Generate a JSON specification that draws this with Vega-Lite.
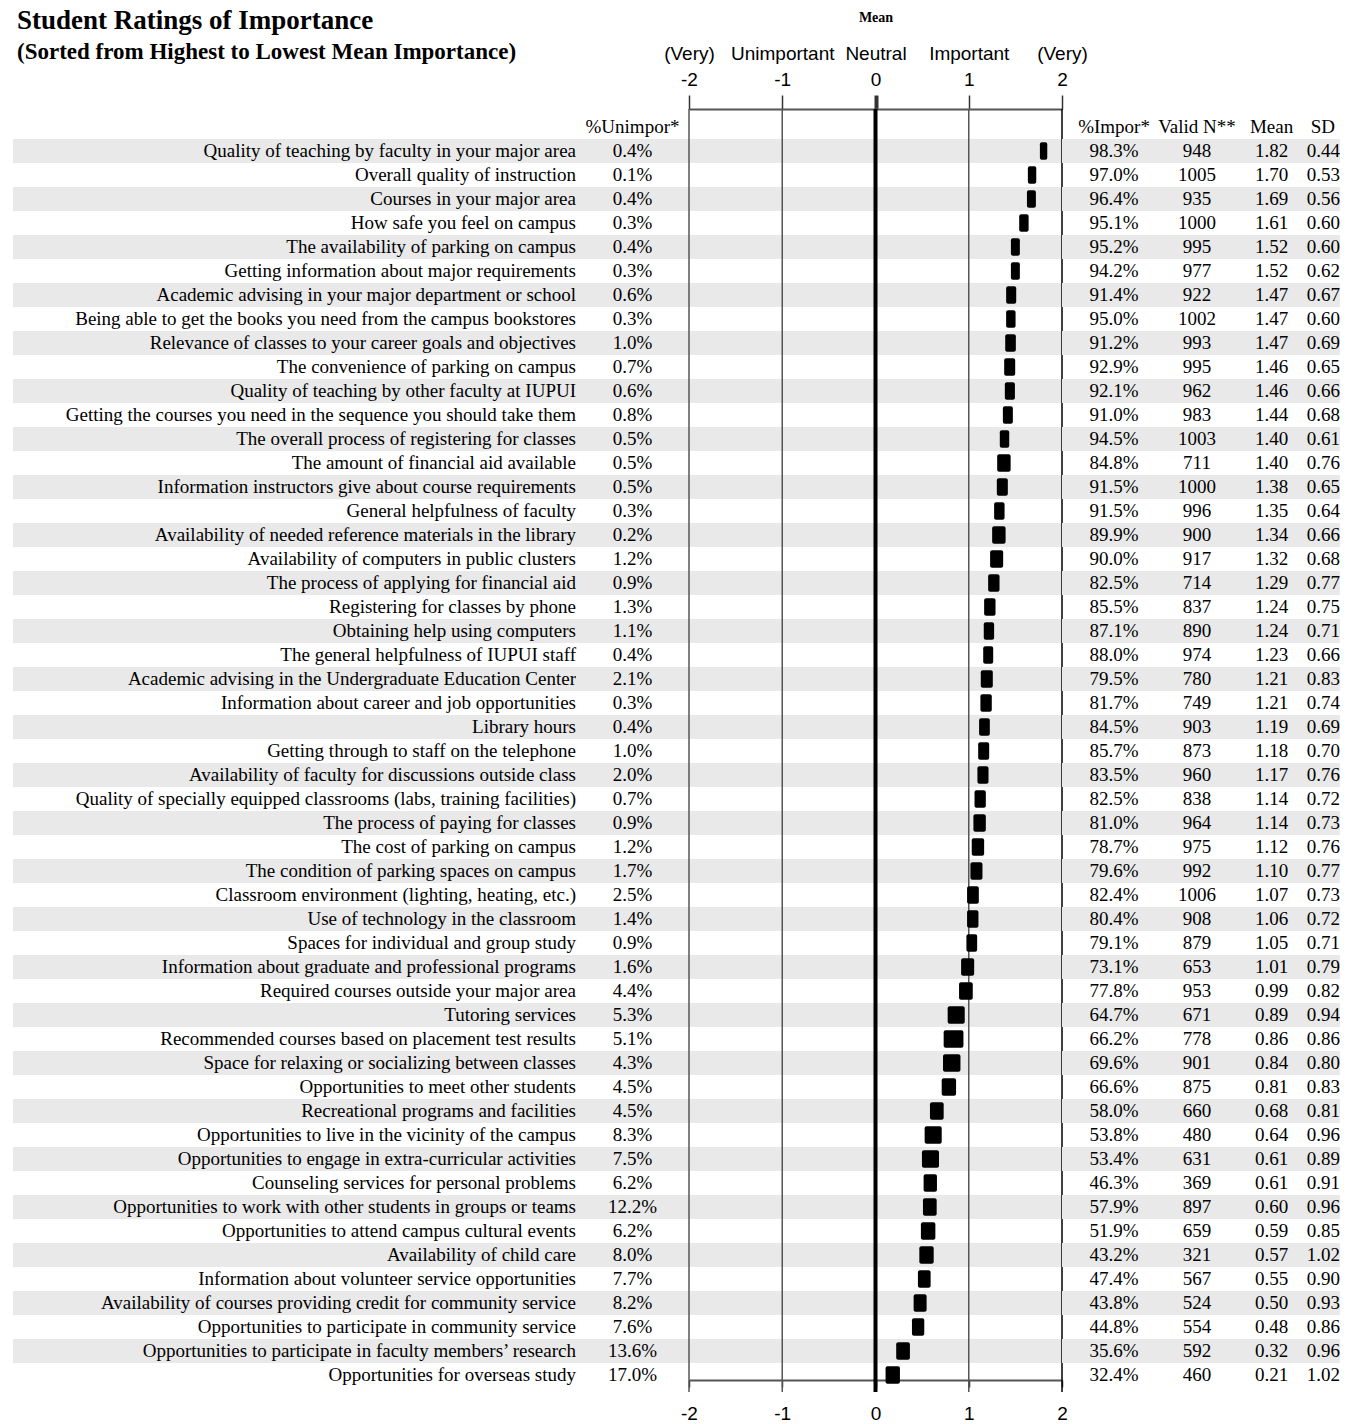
{
  "$schema": "https://vega.github.io/schema/vega-lite/v6.json",
  "background": "white",
  "padding": {"left": 13, "top": 7, "right": 5, "bottom": 0},
  "bounds": "flush",
  "spacing": 0,
  "datasets": {
    "rows": [
      {"rank": 1, "item": "Quality of teaching by faculty in your major area", "unimp": 0.004, "imp": 0.983, "n": 948, "mean": 1.82, "sd": 0.44, "lo": 1.763, "hi": 1.842},
      {"rank": 2, "item": "Overall quality of instruction", "unimp": 0.001, "imp": 0.970, "n": 1005, "mean": 1.70, "sd": 0.53, "lo": 1.634, "hi": 1.724},
      {"rank": 3, "item": "Courses in your major area", "unimp": 0.004, "imp": 0.964, "n": 935, "mean": 1.69, "sd": 0.56, "lo": 1.624, "hi": 1.720},
      {"rank": 4, "item": "How safe you feel on campus", "unimp": 0.003, "imp": 0.951, "n": 1000, "mean": 1.61, "sd": 0.60, "lo": 1.541, "hi": 1.642},
      {"rank": 5, "item": "The availability of parking on campus", "unimp": 0.004, "imp": 0.952, "n": 995, "mean": 1.52, "sd": 0.60, "lo": 1.452, "hi": 1.548},
      {"rank": 6, "item": "Getting information about major requirements", "unimp": 0.003, "imp": 0.942, "n": 977, "mean": 1.52, "sd": 0.62, "lo": 1.452, "hi": 1.548},
      {"rank": 7, "item": "Academic advising in your major department or school", "unimp": 0.006, "imp": 0.914, "n": 922, "mean": 1.47, "sd": 0.67, "lo": 1.401, "hi": 1.509},
      {"rank": 8, "item": "Being able to get the books you need from the campus bookstores", "unimp": 0.003, "imp": 0.950, "n": 1002, "mean": 1.47, "sd": 0.60, "lo": 1.401, "hi": 1.502},
      {"rank": 9, "item": "Relevance of classes to your career goals and objectives", "unimp": 0.010, "imp": 0.912, "n": 993, "mean": 1.47, "sd": 0.69, "lo": 1.391, "hi": 1.505},
      {"rank": 10, "item": "The convenience of parking on campus", "unimp": 0.007, "imp": 0.929, "n": 995, "mean": 1.46, "sd": 0.65, "lo": 1.380, "hi": 1.498},
      {"rank": 11, "item": "Quality of teaching by other faculty at IUPUI", "unimp": 0.006, "imp": 0.921, "n": 962, "mean": 1.46, "sd": 0.66, "lo": 1.387, "hi": 1.495},
      {"rank": 12, "item": "Getting the courses you need in the sequence you should take them", "unimp": 0.008, "imp": 0.910, "n": 983, "mean": 1.44, "sd": 0.68, "lo": 1.366, "hi": 1.473},
      {"rank": 13, "item": "The overall process of registering for classes", "unimp": 0.005, "imp": 0.945, "n": 1003, "mean": 1.40, "sd": 0.61, "lo": 1.333, "hi": 1.434},
      {"rank": 14, "item": "The amount of financial aid available", "unimp": 0.005, "imp": 0.848, "n": 711, "mean": 1.40, "sd": 0.76, "lo": 1.305, "hi": 1.449},
      {"rank": 15, "item": "Information instructors give about course requirements", "unimp": 0.005, "imp": 0.915, "n": 1000, "mean": 1.38, "sd": 0.65, "lo": 1.301, "hi": 1.419},
      {"rank": 16, "item": "General helpfulness of faculty", "unimp": 0.003, "imp": 0.915, "n": 996, "mean": 1.35, "sd": 0.64, "lo": 1.272, "hi": 1.384},
      {"rank": 17, "item": "Availability of needed reference materials in the library", "unimp": 0.002, "imp": 0.899, "n": 900, "mean": 1.34, "sd": 0.66, "lo": 1.251, "hi": 1.395},
      {"rank": 18, "item": "Availability of computers in public clusters", "unimp": 0.012, "imp": 0.900, "n": 917, "mean": 1.32, "sd": 0.68, "lo": 1.229, "hi": 1.369},
      {"rank": 19, "item": "The process of applying for financial aid", "unimp": 0.009, "imp": 0.825, "n": 714, "mean": 1.29, "sd": 0.77, "lo": 1.208, "hi": 1.330},
      {"rank": 20, "item": "Registering for classes by phone", "unimp": 0.013, "imp": 0.855, "n": 837, "mean": 1.24, "sd": 0.75, "lo": 1.165, "hi": 1.287},
      {"rank": 21, "item": "Obtaining help using computers", "unimp": 0.011, "imp": 0.871, "n": 890, "mean": 1.24, "sd": 0.71, "lo": 1.161, "hi": 1.272},
      {"rank": 22, "item": "The general helpfulness of IUPUI staff", "unimp": 0.004, "imp": 0.880, "n": 974, "mean": 1.23, "sd": 0.66, "lo": 1.155, "hi": 1.262},
      {"rank": 23, "item": "Academic advising in the Undergraduate Education Center", "unimp": 0.021, "imp": 0.795, "n": 780, "mean": 1.21, "sd": 0.83, "lo": 1.129, "hi": 1.258},
      {"rank": 24, "item": "Information about career and job opportunities", "unimp": 0.003, "imp": 0.817, "n": 749, "mean": 1.21, "sd": 0.74, "lo": 1.125, "hi": 1.247},
      {"rank": 25, "item": "Library hours", "unimp": 0.004, "imp": 0.845, "n": 903, "mean": 1.19, "sd": 0.69, "lo": 1.111, "hi": 1.226},
      {"rank": 26, "item": "Getting through to staff on the telephone", "unimp": 0.010, "imp": 0.857, "n": 873, "mean": 1.18, "sd": 0.70, "lo": 1.101, "hi": 1.219},
      {"rank": 27, "item": "Availability of faculty for discussions outside class", "unimp": 0.020, "imp": 0.835, "n": 960, "mean": 1.17, "sd": 0.76, "lo": 1.093, "hi": 1.212},
      {"rank": 28, "item": "Quality of specially equipped classrooms (labs, training facilities)", "unimp": 0.007, "imp": 0.825, "n": 838, "mean": 1.14, "sd": 0.72, "lo": 1.062, "hi": 1.183},
      {"rank": 29, "item": "The process of paying for classes", "unimp": 0.009, "imp": 0.810, "n": 964, "mean": 1.14, "sd": 0.73, "lo": 1.050, "hi": 1.183},
      {"rank": 30, "item": "The cost of parking on campus", "unimp": 0.012, "imp": 0.787, "n": 975, "mean": 1.12, "sd": 0.76, "lo": 1.032, "hi": 1.165},
      {"rank": 31, "item": "The condition of parking spaces on campus", "unimp": 0.017, "imp": 0.796, "n": 992, "mean": 1.10, "sd": 0.77, "lo": 1.018, "hi": 1.147},
      {"rank": 32, "item": "Classroom environment (lighting, heating, etc.)", "unimp": 0.025, "imp": 0.824, "n": 1006, "mean": 1.07, "sd": 0.73, "lo": 0.982, "hi": 1.108},
      {"rank": 33, "item": "Use of technology in the classroom", "unimp": 0.014, "imp": 0.804, "n": 908, "mean": 1.06, "sd": 0.72, "lo": 0.982, "hi": 1.104},
      {"rank": 34, "item": "Spaces for individual and group study", "unimp": 0.009, "imp": 0.791, "n": 879, "mean": 1.05, "sd": 0.71, "lo": 0.975, "hi": 1.090},
      {"rank": 35, "item": "Information about graduate and professional programs", "unimp": 0.016, "imp": 0.731, "n": 653, "mean": 1.01, "sd": 0.79, "lo": 0.918, "hi": 1.058},
      {"rank": 36, "item": "Required courses outside your major area", "unimp": 0.044, "imp": 0.778, "n": 953, "mean": 0.99, "sd": 0.82, "lo": 0.896, "hi": 1.043},
      {"rank": 37, "item": "Tutoring services", "unimp": 0.053, "imp": 0.647, "n": 671, "mean": 0.89, "sd": 0.94, "lo": 0.774, "hi": 0.957},
      {"rank": 38, "item": "Recommended courses based on placement test results", "unimp": 0.051, "imp": 0.662, "n": 778, "mean": 0.86, "sd": 0.86, "lo": 0.731, "hi": 0.943},
      {"rank": 39, "item": "Space for relaxing or socializing between classes", "unimp": 0.043, "imp": 0.696, "n": 901, "mean": 0.84, "sd": 0.80, "lo": 0.724, "hi": 0.911},
      {"rank": 40, "item": "Opportunities to meet other students", "unimp": 0.045, "imp": 0.666, "n": 875, "mean": 0.81, "sd": 0.83, "lo": 0.710, "hi": 0.864},
      {"rank": 41, "item": "Recreational programs and facilities", "unimp": 0.045, "imp": 0.580, "n": 660, "mean": 0.68, "sd": 0.81, "lo": 0.584, "hi": 0.731},
      {"rank": 42, "item": "Opportunities to live in the vicinity of the campus", "unimp": 0.083, "imp": 0.538, "n": 480, "mean": 0.64, "sd": 0.96, "lo": 0.527, "hi": 0.710},
      {"rank": 43, "item": "Opportunities to engage in extra-curricular activities", "unimp": 0.075, "imp": 0.534, "n": 631, "mean": 0.61, "sd": 0.89, "lo": 0.498, "hi": 0.681},
      {"rank": 44, "item": "Counseling services for personal problems", "unimp": 0.062, "imp": 0.463, "n": 369, "mean": 0.61, "sd": 0.91, "lo": 0.516, "hi": 0.659},
      {"rank": 45, "item": "Opportunities to work with other students in groups or teams", "unimp": 0.122, "imp": 0.579, "n": 897, "mean": 0.60, "sd": 0.96, "lo": 0.509, "hi": 0.656},
      {"rank": 46, "item": "Opportunities to attend campus cultural events", "unimp": 0.062, "imp": 0.519, "n": 659, "mean": 0.59, "sd": 0.85, "lo": 0.487, "hi": 0.642},
      {"rank": 47, "item": "Availability of child care", "unimp": 0.080, "imp": 0.432, "n": 321, "mean": 0.57, "sd": 1.02, "lo": 0.470, "hi": 0.624},
      {"rank": 48, "item": "Information about volunteer service opportunities", "unimp": 0.077, "imp": 0.474, "n": 567, "mean": 0.55, "sd": 0.90, "lo": 0.455, "hi": 0.591},
      {"rank": 49, "item": "Availability of courses providing credit for community service", "unimp": 0.082, "imp": 0.438, "n": 524, "mean": 0.50, "sd": 0.93, "lo": 0.409, "hi": 0.548},
      {"rank": 50, "item": "Opportunities to participate in community service", "unimp": 0.076, "imp": 0.448, "n": 554, "mean": 0.48, "sd": 0.86, "lo": 0.391, "hi": 0.523},
      {"rank": 51, "item": "Opportunities to participate in faculty members’ research", "unimp": 0.136, "imp": 0.356, "n": 592, "mean": 0.32, "sd": 0.96, "lo": 0.222, "hi": 0.369},
      {"rank": 52, "item": "Opportunities for overseas study", "unimp": 0.170, "imp": 0.324, "n": 460, "mean": 0.21, "sd": 1.02, "lo": 0.108, "hi": 0.262}
    ],
    "ticks": [{"v": -2}, {"v": -1}, {"v": 0}, {"v": 1}, {"v": 2}]
  },
  "hconcat": [
    {
      "width": 563, "height": 1283,
      "title": {"text": "Student Ratings of Importance", "subtitle": "(Sorted from Highest to Lowest Mean Importance)", "anchor": "start", "frame": "group", "dx": 4, "font": "Liberation Serif", "fontSize": 27, "fontWeight": "bold", "color": "black", "subtitleFont": "Liberation Serif", "subtitleFontSize": 23, "subtitleFontWeight": "bold", "subtitleColor": "black", "subtitlePadding": 6, "offset": 44},
      "layer": [
        {"data": {"name": "rows"}, "transform": [{"filter": "datum.rank % 2 == 1"}], "mark": {"type": "rect", "color": "#e9e9e9"},
         "encoding": {"y": {"field": "rank", "type": "ordinal", "axis": null, "scale": {"domain": [0,1,2,3,4,5,6,7,8,9,10,11,12,13,14,15,16,17,18,19,20,21,22,23,24,25,26,27,28,29,30,31,32,33,34,35,36,37,38,39,40,41,42,43,44,45,46,47,48,49,50,51,52], "paddingInner": 0, "paddingOuter": 0.229, "align": 0.545}}}},
        {"data": {"name": "rows"}, "mark": {"type": "text", "align": "right"},
         "encoding": {"x": {"value": "width"}, "text": {"field": "item"}, "y": {"field": "rank", "type": "ordinal", "axis": null, "scale": {"domain": [0,1,2,3,4,5,6,7,8,9,10,11,12,13,14,15,16,17,18,19,20,21,22,23,24,25,26,27,28,29,30,31,32,33,34,35,36,37,38,39,40,41,42,43,44,45,46,47,48,49,50,51,52], "paddingInner": 0, "paddingOuter": 0.229, "align": 0.545}}}}
      ]
    },
    {
      "width": 113, "height": 1283,
      "layer": [
        {"data": {"name": "rows"}, "transform": [{"filter": "datum.rank % 2 == 1"}], "mark": {"type": "rect", "color": "#e9e9e9"},
         "encoding": {"y": {"field": "rank", "type": "ordinal", "axis": null, "scale": {"domain": [0,1,2,3,4,5,6,7,8,9,10,11,12,13,14,15,16,17,18,19,20,21,22,23,24,25,26,27,28,29,30,31,32,33,34,35,36,37,38,39,40,41,42,43,44,45,46,47,48,49,50,51,52], "paddingInner": 0, "paddingOuter": 0.229, "align": 0.545}}}},
        {"data": {"values": [{"rank": 0, "t": "%Unimpor*"}]}, "mark": {"type": "text"},
         "encoding": {"text": {"field": "t"}, "y": {"field": "rank", "type": "ordinal", "axis": null}}},
        {"data": {"name": "rows"}, "mark": {"type": "text"},
         "encoding": {"text": {"field": "unimp", "format": ".1%"}, "y": {"field": "rank", "type": "ordinal", "axis": null}}}
      ]
    },
    {
      "width": 373, "height": 1283,
      "layer": [
        {"data": {"name": "rows"}, "transform": [{"filter": "datum.rank % 2 == 1"}], "mark": {"type": "rect", "color": "#e9e9e9"},
         "encoding": {"y": {"field": "rank", "type": "ordinal", "axis": null, "scale": {"domain": [0,1,2,3,4,5,6,7,8,9,10,11,12,13,14,15,16,17,18,19,20,21,22,23,24,25,26,27,28,29,30,31,32,33,34,35,36,37,38,39,40,41,42,43,44,45,46,47,48,49,50,51,52], "paddingInner": 0, "paddingOuter": 0.229, "align": 0.545}}}},
        {"data": {"name": "ticks"}, "mark": {"type": "rule"},
         "encoding": {
           "x": {"field": "v", "type": "quantitative", "scale": {"domain": [-2, 2], "nice": false, "zero": false},
                 "axis": {"orient": "top", "values": [-2, -1, 0, 1, 2], "grid": false, "domainColor": "#555", "domainWidth": 2, "tickColor": "#333", "tickSize": 14,
                          "tickWidth": {"condition": {"test": "datum.value === 0", "value": 4}, "value": 1.5},
                          "labelExpr": "datum.value == -2 ? ['(Very)', '-2'] : datum.value == -1 ? ['Unimportant', '-1'] : datum.value == 0 ? ['\u00a0\u00a0\u00a0\u00a0Neutral', '0'] : datum.value == 1 ? ['\u00a0\u00a0\u00a0\u00a0\u00a0Important', '1\u00a0\u00a0\u00a0'] : ['\u00a0\u00a0\u00a0(Very)', '2\u00a0\u00a0\u00a0']",
                          "labelFont": "Liberation Sans", "labelFontSize": 19, "labelLineHeight": 26, "labelPadding": 32, "labelColor": "black", "labelOverlap": false, "labelFlush": false, "labelBound": false,
                          "title": "Mean", "titleFont": "Liberation Serif", "titleFontSize": 14, "titleFontWeight": "bold", "titleColor": "black", "titlePadding": 20}},
           "strokeWidth": {"condition": {"test": "datum.v === 0", "value": 4}, "value": 1.5},
           "color": {"condition": {"test": "datum.v === 0 || datum.v === 2", "value": "black"}, "value": "#555555"}
         }},
        {"data": {"name": "rows"}, "mark": {"type": "bar", "height": {"band": 0.72}, "color": "black", "cornerRadius": 2},
         "encoding": {
           "x": {"field": "lo", "type": "quantitative",
                 "axis": {"orient": "bottom", "values": [-2, -1, 0, 1, 2], "grid": false, "offset": -12, "domainColor": "#555", "domainWidth": 2, "tickColor": "#333", "tickSize": 7, "tickWidth": 1.5,
                          "labelExpr": "'' + datum.value", "labelFont": "Liberation Sans", "labelFontSize": 19, "labelPadding": 17, "labelColor": "black", "labelFlush": false, "labelOverlap": false, "title": null}},
           "x2": {"field": "hi"},
           "y": {"field": "rank", "type": "ordinal", "axis": null}
         }}
      ],
      "resolve": {"axis": {"x": "independent"}}
    },
    {
      "width": 104, "height": 1283,
      "layer": [
        {"data": {"name": "rows"}, "transform": [{"filter": "datum.rank % 2 == 1"}], "mark": {"type": "rect", "color": "#e9e9e9"},
         "encoding": {"y": {"field": "rank", "type": "ordinal", "axis": null, "scale": {"domain": [0,1,2,3,4,5,6,7,8,9,10,11,12,13,14,15,16,17,18,19,20,21,22,23,24,25,26,27,28,29,30,31,32,33,34,35,36,37,38,39,40,41,42,43,44,45,46,47,48,49,50,51,52], "paddingInner": 0, "paddingOuter": 0.229, "align": 0.545}}}},
        {"data": {"values": [{"rank": 0, "t": "%Impor*"}]}, "mark": {"type": "text"},
         "encoding": {"text": {"field": "t"}, "y": {"field": "rank", "type": "ordinal", "axis": null}}},
        {"data": {"name": "rows"}, "mark": {"type": "text"},
         "encoding": {"text": {"field": "imp", "format": ".1%"}, "y": {"field": "rank", "type": "ordinal", "axis": null}}}
      ]
    },
    {
      "width": 62, "height": 1283,
      "layer": [
        {"data": {"name": "rows"}, "transform": [{"filter": "datum.rank % 2 == 1"}], "mark": {"type": "rect", "color": "#e9e9e9"},
         "encoding": {"y": {"field": "rank", "type": "ordinal", "axis": null, "scale": {"domain": [0,1,2,3,4,5,6,7,8,9,10,11,12,13,14,15,16,17,18,19,20,21,22,23,24,25,26,27,28,29,30,31,32,33,34,35,36,37,38,39,40,41,42,43,44,45,46,47,48,49,50,51,52], "paddingInner": 0, "paddingOuter": 0.229, "align": 0.545}}}},
        {"data": {"values": [{"rank": 0, "t": "Valid N**"}]}, "mark": {"type": "text"},
         "encoding": {"text": {"field": "t"}, "y": {"field": "rank", "type": "ordinal", "axis": null}}},
        {"data": {"name": "rows"}, "mark": {"type": "text"},
         "encoding": {"text": {"field": "n", "format": "d"}, "y": {"field": "rank", "type": "ordinal", "axis": null}}}
      ]
    },
    {
      "width": 87, "height": 1283,
      "layer": [
        {"data": {"name": "rows"}, "transform": [{"filter": "datum.rank % 2 == 1"}], "mark": {"type": "rect", "color": "#e9e9e9"},
         "encoding": {"y": {"field": "rank", "type": "ordinal", "axis": null, "scale": {"domain": [0,1,2,3,4,5,6,7,8,9,10,11,12,13,14,15,16,17,18,19,20,21,22,23,24,25,26,27,28,29,30,31,32,33,34,35,36,37,38,39,40,41,42,43,44,45,46,47,48,49,50,51,52], "paddingInner": 0, "paddingOuter": 0.229, "align": 0.545}}}},
        {"data": {"values": [{"rank": 0, "t": "Mean"}]}, "mark": {"type": "text"},
         "encoding": {"text": {"field": "t"}, "y": {"field": "rank", "type": "ordinal", "axis": null}}},
        {"data": {"name": "rows"}, "mark": {"type": "text"},
         "encoding": {"text": {"field": "mean", "format": ".2f"}, "y": {"field": "rank", "type": "ordinal", "axis": null}}}
      ]
    },
    {
      "width": 25, "height": 1283,
      "layer": [
        {"data": {"name": "rows"}, "transform": [{"filter": "datum.rank % 2 == 1"}], "mark": {"type": "rect", "color": "#e9e9e9"},
         "encoding": {"y": {"field": "rank", "type": "ordinal", "axis": null, "scale": {"domain": [0,1,2,3,4,5,6,7,8,9,10,11,12,13,14,15,16,17,18,19,20,21,22,23,24,25,26,27,28,29,30,31,32,33,34,35,36,37,38,39,40,41,42,43,44,45,46,47,48,49,50,51,52], "paddingInner": 0, "paddingOuter": 0.229, "align": 0.545}}}},
        {"data": {"values": [{"rank": 0, "t": "SD"}]}, "mark": {"type": "text", "align": "right", "dx": -5},
         "encoding": {"x": {"value": "width"}, "text": {"field": "t"}, "y": {"field": "rank", "type": "ordinal", "axis": null}}},
        {"data": {"name": "rows"}, "mark": {"type": "text", "align": "right"},
         "encoding": {"x": {"value": "width"}, "text": {"field": "sd", "format": ".2f"}, "y": {"field": "rank", "type": "ordinal", "axis": null}}}
      ]
    }
  ],
  "config": {
    "view": {"stroke": null},
    "text": {"font": "Liberation Serif", "fontSize": 19, "color": "black"}
  }
}
